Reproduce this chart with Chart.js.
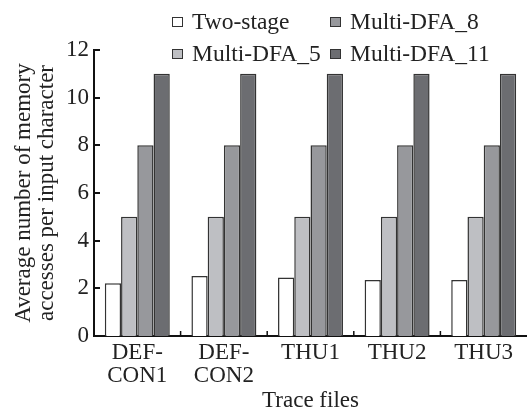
<!DOCTYPE html>
<html>
<head>
<meta charset="utf-8">
<script src="https://cdn.jsdelivr.net/npm/chart.js@4.4.0/dist/chart.umd.min.js"></script>
<style>
  html, body { margin: 0; padding: 0; background: #fff; }
  #wrap { width: 527px; height: 412px; }
</style>
</head>
<body>
<div id="wrap"><canvas id="chart"></canvas></div>
<script>
// data
const traceFiles = [['DEF-', 'CON1'], ['DEF-', 'CON2'], 'THU1', 'THU2', 'THU3'];
const twoStage = [2.21, 2.52, 2.45, 2.35, 2.35];
const multiDfa5 = [5, 5, 5, 5, 5];
const multiDfa8 = [8, 8, 8, 8, 8];
const multiDfa11 = [11, 11, 11, 11, 11];
const yTicks = [0, 2, 4, 6, 8, 10, 12];

const FONT = '"Liberation Serif", "Times New Roman", serif';
Chart.defaults.font.family = FONT;
Chart.defaults.color = '#222';

// legend in two columns, drawn onto the canvas
const gridLegend = {
    id: 'gridLegend',
    afterDraw(chart) {
        const ctx = chart.ctx;
        const ds = chart.data.datasets;
        // column-major: Two-stage / Multi-DFA_5 left, Multi-DFA_8 / Multi-DFA_11 right
        const spots = [[172, 22], [172, 54], [330, 22], [330, 54]];
        ctx.save();
        ctx.font = '23.5px ' + FONT;
        ctx.textBaseline = 'middle';
        ds.forEach((d, i) => {
            const [x, y] = spots[i];
            ctx.fillStyle = d.backgroundColor;
            ctx.fillRect(x, y - 5, 11, 10);
            ctx.strokeStyle = '#333';
            ctx.lineWidth = 1;
            ctx.strokeRect(x + 0.5, y - 4.5, 10, 9);
            ctx.fillStyle = '#222';
            ctx.fillText(d.label, x + 20, y + 1);
        });
        ctx.restore();
    }
};

// short inward ticks on both axes
const innerTicks = {
    id: 'innerTicks',
    afterDraw(chart) {
        const ctx = chart.ctx;
        const xs = chart.scales.x, ys = chart.scales.y;
        const area = chart.chartArea;
        ctx.save();
        ctx.strokeStyle = '#111';
        ctx.lineWidth = 2;
        yTicks.forEach(v => {
            const y = Math.round(ys.getPixelForValue(v));
            ctx.beginPath();
            ctx.moveTo(area.left, y);
            ctx.lineTo(area.left + 6, y);
            ctx.stroke();
        });
        ctx.lineWidth = 1.5;
        for (let i = 1; i < traceFiles.length; i++) {
            const x = (xs.getPixelForValue(i - 1) + xs.getPixelForValue(i)) / 2;
            ctx.beginPath();
            ctx.moveTo(x, area.bottom);
            ctx.lineTo(x, area.bottom - 5);
            ctx.stroke();
        }
        ctx.restore();
    }
};

const ctx = document.getElementById('chart').getContext('2d');
new Chart(ctx, {
    type: 'bar',
    data: {
        labels: traceFiles,
        datasets: [
            { label: 'Two-stage', data: twoStage, backgroundColor: '#ffffff' },
            { label: 'Multi-DFA_5', data: multiDfa5, backgroundColor: '#bebfc3' },
            { label: 'Multi-DFA_8', data: multiDfa8, backgroundColor: '#97989c' },
            { label: 'Multi-DFA_11', data: multiDfa11, backgroundColor: '#6c6d71' }
        ]
    },
    options: {
        responsive: true,
        maintainAspectRatio: false,
        animation: false,
        layout: { padding: { top: 50, right: 0, left: 0, bottom: 0 } },
        datasets: {
            bar: {
                borderColor: '#333333',
                borderWidth: 1.5,
                categoryPercentage: 0.75,
                barPercentage: 1
            }
        },
        plugins: {
            legend: { display: false },
            tooltip: { enabled: false }
        },
        scales: {
            x: {
                grid: { display: false, drawTicks: false },
                border: { display: true, color: '#111', width: 2 },
                ticks: { font: { size: 23, lineHeight: 1.0 }, padding: 5, maxRotation: 0, autoSkip: false },
                title: { display: true, text: 'Trace files', font: { size: 23, lineHeight: 1 }, padding: 0 },
                afterFit(scale) { scale.height = 76; }
            },
            y: {
                min: 0,
                max: 12,
                grid: { display: false, drawTicks: false },
                border: { display: true, color: '#111', width: 2 },
                ticks: { stepSize: 2, font: { size: 23 }, padding: 5 },
                title: {
                    display: true,
                    text: ['Average number of memory', 'accesses per input character'],
                    font: { size: 23, lineHeight: 1.0 },
                    padding: { top: 12, bottom: 0 }
                },
                afterFit(scale) { scale.width = 94; }
            }
        }
    },
    plugins: [gridLegend, innerTicks]
});
</script>
</body>
</html>
